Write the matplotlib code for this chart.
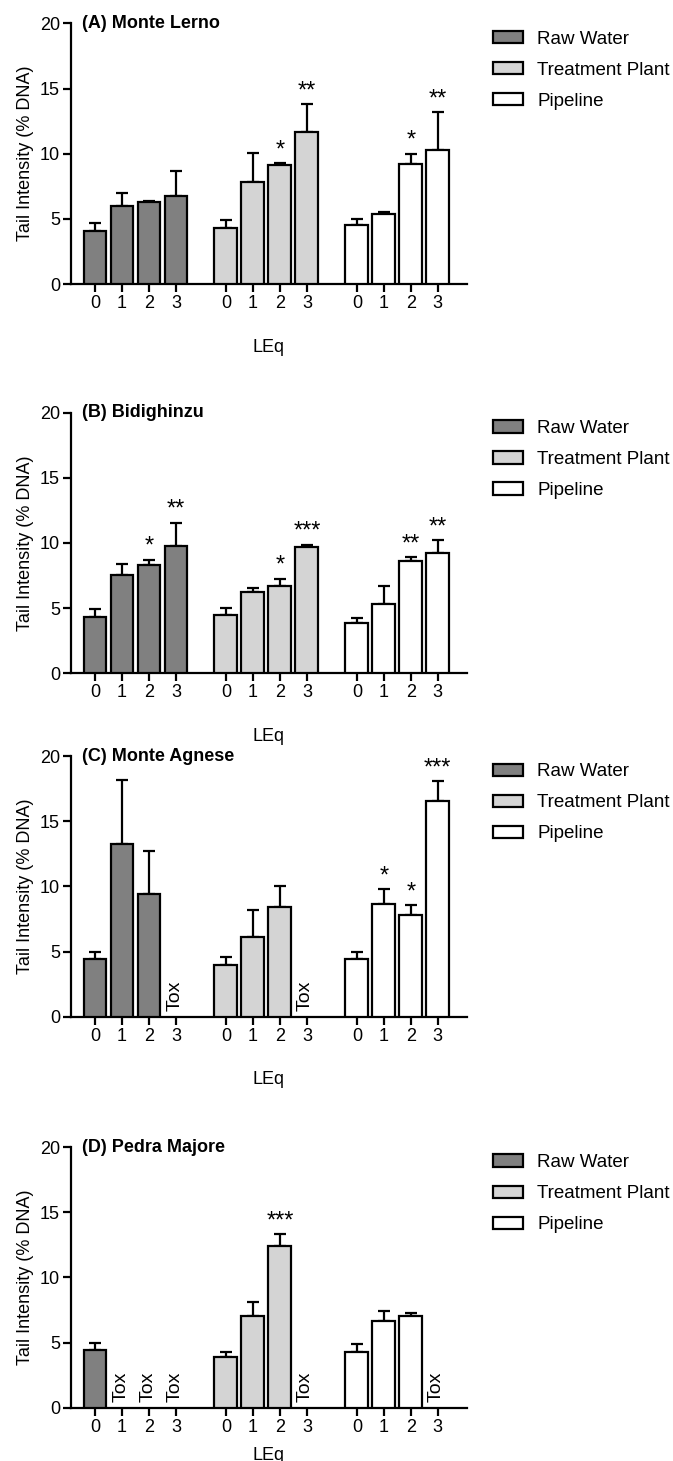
import numpy as np
import matplotlib
matplotlib.use("Agg")
from matplotlib import pyplot as plt

plt.rcParams['font.family'] = ['Liberation Sans', 'DejaVu Sans']

# data (nan = Tox, no bar)
nan = np.nan
lev_labels = ['0', '1', '2', '3']
series_names = ['Raw Water', 'Treatment Plant', 'Pipeline']
panel_titles = ['(A) Monte Lerno', '(B) Bidighinzu', '(C) Monte Agnese', '(D) Pedra Majore']

# (A) Monte Lerno
a_raw = [4.1, 6.0, 6.3, 6.75]
a_raw_err = [0.55, 1.0, 0.05, 1.95]
a_tp = [4.3, 7.85, 9.1, 11.65]
a_tp_err = [0.6, 2.2, 0.15, 2.15]
a_pipe = [4.5, 5.35, 9.2, 10.3]
a_pipe_err = [0.5, 0.15, 0.8, 2.9]
a_stars = [['', '', '', ''], ['', '', '*', '**'], ['', '', '*', '**']]

# (B) Bidighinzu
b_raw = [4.35, 7.5, 8.3, 9.75]
b_raw_err = [0.6, 0.85, 0.4, 1.8]
b_tp = [4.45, 6.25, 6.7, 9.7]
b_tp_err = [0.55, 0.3, 0.55, 0.15]
b_pipe = [3.85, 5.35, 8.65, 9.25]
b_pipe_err = [0.4, 1.35, 0.25, 0.95]
b_stars = [['', '', '*', '**'], ['', '', '*', '***'], ['', '', '**', '**']]

# (C) Monte Agnese
c_raw = [4.45, 13.25, 9.4, nan]
c_raw_err = [0.55, 4.9, 3.3, nan]
c_tp = [4.0, 6.1, 8.45, nan]
c_tp_err = [0.55, 2.05, 1.6, nan]
c_pipe = [4.45, 8.65, 7.8, 16.55]
c_pipe_err = [0.5, 1.15, 0.75, 1.5]
c_stars = [['', '', '', ''], ['', '', '', ''], ['', '*', '*', '***']]

# (D) Pedra Majore
d_raw = [4.4, nan, nan, nan]
d_raw_err = [0.55, nan, nan, nan]
d_tp = [3.9, 7.05, 12.4, nan]
d_tp_err = [0.35, 1.05, 0.9, nan]
d_pipe = [4.3, 6.65, 7.0, nan]
d_pipe_err = [0.55, 0.8, 0.25, nan]
d_stars = [['', '', '', ''], ['', '', '***', ''], ['', '', '', '']]

panels = [
    ([a_raw, a_tp, a_pipe], [a_raw_err, a_tp_err, a_pipe_err], a_stars),
    ([b_raw, b_tp, b_pipe], [b_raw_err, b_tp_err, b_pipe_err], b_stars),
    ([c_raw, c_tp, c_pipe], [c_raw_err, c_tp_err, c_pipe_err], c_stars),
    ([d_raw, d_tp, d_pipe], [d_raw_err, d_tp_err, d_pipe_err], d_stars),
]

colors = ['#808080', '#d4d4d4', '#ffffff']
group_step = 4.85
bottoms = [0.8056, 0.5392, 0.3041, 0.0365]
xlab_pad = [19, 19, 19, 8]

fig = plt.figure(figsize=(6.73, 14.61), dpi=100)

for p, (vals, errs, stars) in enumerate(panels):
    ax = fig.add_axes([0.1055, bottoms[p], 0.5884, 0.1784])
    ticks = []
    handles = []
    for g in range(3):
        x = np.arange(4) + g * group_step
        ticks.extend(x)
        v = np.array(vals[g], dtype=float)
        e = np.array(errs[g], dtype=float)
        h = ax.bar(x, v, width=0.85, color=colors[g], edgecolor='black',
                   linewidth=1.6, label=series_names[g], zorder=3)
        handles.append(h)
        ax.errorbar(x, v, yerr=[np.zeros_like(e), e], fmt='none', ecolor='black',
                    elinewidth=1.6, capsize=4, capthick=1.6, zorder=2)
        for i in range(4):
            if np.isnan(v[i]):
                ax.text(x[i] - 0.05, 0.45, 'Tox', rotation=90, ha='center',
                        va='bottom', fontsize=14)
            elif stars[g][i]:
                ax.annotate(stars[g][i], (x[i], v[i] + e[i]), xytext=(0, 5),
                            textcoords='offset points', ha='center',
                            va='baseline', fontsize=17)

    ax.set_xlim(-0.889, 13.78)
    ax.set_ylim(0, 20)
    ax.set_yticks([0, 5, 10, 15, 20])
    ax.set_xticks(ticks)
    ax.set_xticklabels(lev_labels * 3)
    ax.tick_params(axis='both', labelsize=13, width=1.6, length=6, pad=2)
    for s in ['top', 'right']:
        ax.spines[s].set_visible(False)
    for s in ['left', 'bottom']:
        ax.spines[s].set_linewidth(1.6)
    ax.set_ylabel('Tail Intensity (% DNA)', fontsize=13, labelpad=4)
    ax.set_xlabel('LEq', fontsize=13, labelpad=xlab_pad[p])
    ax.text(0.028, 1.0, panel_titles[p], transform=ax.transAxes, ha='left',
            va='center', fontsize=13, fontweight='bold')
    ax.legend(handles=handles, loc='upper left', bbox_to_anchor=(1.066, 0.972),
              frameon=False, fontsize=13.5, handlelength=1.6, handleheight=0.65,
              handletextpad=0.75, labelspacing=0.75, borderpad=0.0,
              borderaxespad=0.0)

fig.savefig('out.png', dpi=100)
